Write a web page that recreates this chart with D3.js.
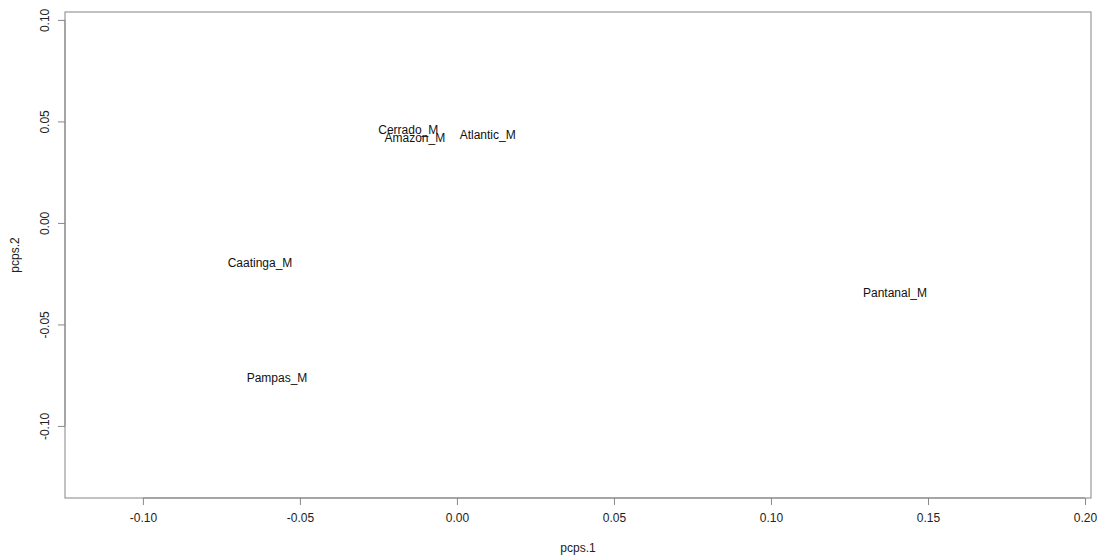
<!DOCTYPE html>
<html>
<head>
<meta charset="UTF-8">
<title>pcps</title>
<style>
  * { margin: 0; padding: 0; }
  body { background: #fff; }
  text { font-family: "Liberation Sans", Arial, sans-serif; }
</style>
<script src="https://cdn.jsdelivr.net/npm/d3@7"></script>
</head>
<body>
<svg id="chart" width="1104" height="558"></svg>
<script>
// site labels and their scores on the two axes
const names = ["Cerrado_M", "Amazon_M", "Atlantic_M", "Caatinga_M", "Pampas_M", "Pantanal_M"];
const pc1 = [-0.0155, -0.0134, 0.0098, -0.0627, -0.0573, 0.1395];
const pc2 = [0.0458, 0.0419, 0.0433, -0.0197, -0.0764, -0.0345];
const xTicks = [-0.10, -0.05, 0.00, 0.05, 0.10, 0.15, 0.20];
const yTicks = [-0.10, -0.05, 0.00, 0.05, 0.10];

const svg = d3.select("#chart");
const mLeft = 65, mRight = 1091, mTop = 12, mBottom = 498;

const x = d3.scaleLinear().domain([-0.1248, 0.2019]).range([mLeft, mRight]);
const y = d3.scaleLinear().domain([-0.1355, 0.1039]).range([mBottom, mTop]);

// R style labels: plain hyphen for minus
const fmt = d => d.toFixed(2);

// plot box
svg.append("rect")
  .attr("x", mLeft).attr("y", mTop)
  .attr("width", mRight - mLeft).attr("height", mBottom - mTop)
  .attr("fill", "none").attr("stroke", "#999").attr("stroke-width", 1.2);

// x axis
const xAxis = svg.append("g")
  .attr("transform", `translate(0,${mBottom})`)
  .call(d3.axisBottom(x).tickValues(xTicks).tickFormat(fmt).tickSize(7).tickPadding(8));
xAxis.select(".domain").remove();
xAxis.append("line")
  .attr("x1", x(-0.10)).attr("x2", x(0.20))
  .attr("stroke", "#888");
xAxis.selectAll(".tick line").attr("stroke", "#888");
xAxis.selectAll(".tick text")
  .attr("fill", "#222").attr("font-size", 12)
  .attr("font-family", "Liberation Sans, Arial, sans-serif");

// y axis
const yAxis = svg.append("g")
  .attr("transform", `translate(${mLeft},0)`)
  .call(d3.axisLeft(y).tickValues(yTicks).tickFormat(fmt).tickSize(7).tickPadding(0));
yAxis.select(".domain").remove();
yAxis.append("line")
  .attr("y1", y(-0.10)).attr("y2", y(0.10))
  .attr("stroke", "#888");
yAxis.selectAll(".tick line").attr("stroke", "#888");
yAxis.selectAll(".tick text")
  .attr("fill", "#222").attr("font-size", 12)
  .attr("font-family", "Liberation Sans, Arial, sans-serif")
  .attr("x", null).attr("dy", null)
  .attr("text-anchor", "middle")
  .attr("transform", "translate(-16,0) rotate(-90)");

// axis titles
svg.append("text")
  .attr("x", (mLeft + mRight) / 2).attr("y", 552)
  .attr("text-anchor", "middle").attr("font-size", 12).attr("fill", "#222")
  .text("pcps.1");
svg.append("text")
  .attr("transform", `translate(19,${(mTop + mBottom) / 2}) rotate(-90)`)
  .attr("text-anchor", "middle").attr("font-size", 12).attr("fill", "#222")
  .text("pcps.2");

// point labels
svg.append("g").selectAll("text")
  .data(names)
  .join("text")
  .attr("x", (d, i) => x(pc1[i]))
  .attr("y", (d, i) => y(pc2[i]))
  .attr("dy", "0.35em")
  .attr("text-anchor", "middle")
  .attr("font-size", 12)
  .attr("fill", "#111")
  .text(d => d);
</script>
</body>
</html>
